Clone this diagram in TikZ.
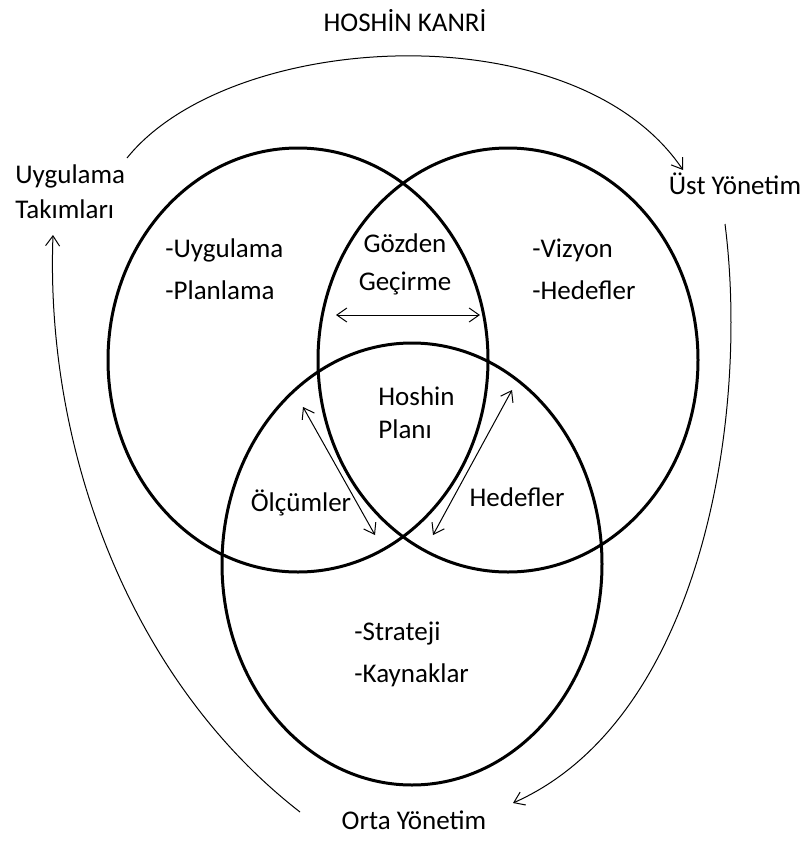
\documentclass[tikz,border=0pt]{standalone}
\usepackage{fontspec}
\setmainfont{Carlito}
\usetikzlibrary{arrows.meta}
\begin{document}
\begin{tikzpicture}[x=0.5pt,y=-0.5pt,
  ring/.style={line width=1.5pt},
  flow/.style={line width=0.5pt,-{Straight Barb[length=5pt,width=7pt]}},
  link/.style={line width=0.5pt,{Straight Barb[length=5pt,width=7pt]}-{Straight Barb[length=5pt,width=7pt]}},
  lbl/.style={inner sep=0pt,font=\fontsize{13.5}{17.5}\selectfont},
  listlbl/.style={inner sep=0pt,align=left,anchor=west,font=\fontsize{13.5}{21}\selectfont}]
\useasboundingbox (0,0) rectangle (808,841);

% three overlapping rings
\draw[ring] (298,360) ellipse [x radius=190, y radius=212];
\draw[ring] (508,360) ellipse [x radius=190, y radius=212];
\draw[ring] (412,564) ellipse [x radius=190, y radius=221];

% outer labels
\node[lbl] (title) at (405,21) {HOSHİN KANRİ};
\node[lbl,align=left,anchor=west] (teams) at (15,192) {Uygulama\\Takımları};
\node[lbl] (top) at (735,184) {Üst Yönetim};
\node[lbl] (middle) at (414,820) {Orta Yönetim};

% region labels
\node[lbl,align=center,font=\fontsize{13.5}{19}\selectfont] (review) at (405,264) {Gözden\\Geçirme};
\node[listlbl] (exec) at (165,269) {-Uygulama\\-Planlama};
\node[listlbl] (vision) at (532,269) {-Vizyon\\-Hedefler};
\node[lbl,align=left,anchor=west,font=\fontsize{13.5}{16.5}\selectfont] (plan) at (378,413) {Hoshin\\Planı};
\node[lbl] (measure) at (301,503) {Ölçümler};
\node[lbl] (goals) at (517,497) {Hedefler};
\node[listlbl] (strategy) at (354,654) {-Strateji\\-Kaynaklar};

% cycle arrows around the rings
\coordinate (a1) at (127,158);
\coordinate (a2) at (683,170);
\coordinate (b1) at (725,224);
\coordinate (b2) at (513,803);
\coordinate (c1) at (300,812);
\coordinate (c2) at (53,235);
\draw[flow] (a1) .. controls (230,30) and (575,10) .. (a2);
\draw[flow] (b1) .. controls (750,420) and (700,720) .. (b2);
\draw[flow] (c1) .. controls (130,680) and (45,450) .. (c2);

% two-way arrows inside the rings
\coordinate (h1) at (336,315);
\coordinate (h2) at (480,315);
\coordinate (l1) at (303,407);
\coordinate (l2) at (375,535);
\coordinate (r1) at (512,390);
\coordinate (r2) at (433,535);
\draw[link] (h1) -- (h2);
\draw[link] (l1) -- (l2);
\draw[link] (r1) -- (r2);
\end{tikzpicture}
\end{document}
